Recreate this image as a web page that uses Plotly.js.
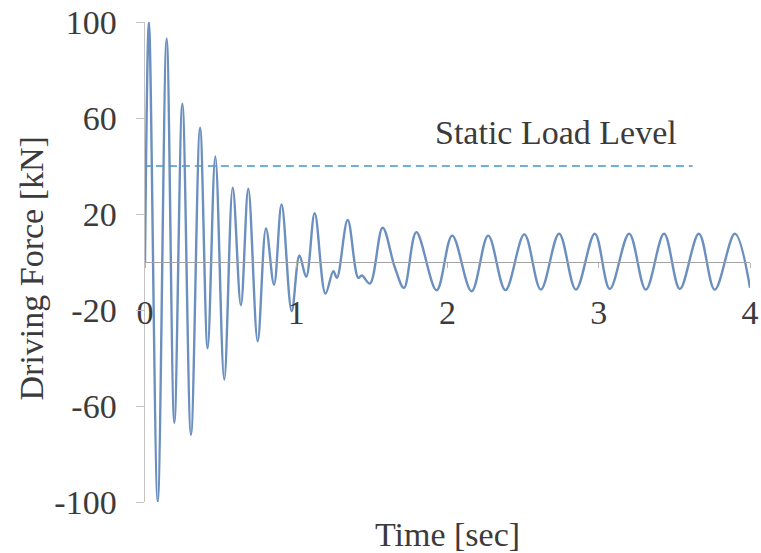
<!DOCTYPE html>
<html>
<head>
<meta charset="utf-8">
<script src="https://cdn.plot.ly/plotly-3.0.1.min.js"></script>
<style>html,body{margin:0;padding:0;background:#fff;}#chart{width:761px;height:553px;}</style>
</head>
<body>
<div id="chart"></div>
<script>
// Driving force response
const timeSec = [0, 0.026, 0.084, 0.143, 0.194, 0.247, 0.304, 0.364, 0.414, 0.465, 0.524,
  0.580, 0.634, 0.683, 0.745, 0.800, 0.853, 0.903, 0.970, 1.021, 1.066, 1.122, 1.193,
  1.245, 1.269, 1.340, 1.410, 1.434, 1.487, 1.571, 1.652, 1.712, 1.794, 1.928, 2.031,
  2.159, 2.269, 2.383, 2.508, 2.617, 2.738, 2.849, 2.974, 3.073, 3.201, 3.311, 3.432,
  3.536, 3.662, 3.767, 3.900, 4.0];
const forceKN = [0, 100, -100, 93, -67, 66, -72, 56, -36, 44, -49,
  31, -18, 30.5, -33, 14, -9.5, 24, -20.5, 2.7, -6.2, 20.3, -13.2,
  -3.8, -6.6, 17.5, -6.6, -5.6, -9, 14.3, -2.3, -10.8, 12.4, -11.8, 11,
  -12.2, 11, -11.7, 11.5, -11.5, 11.8, -11.5, 11.8, -11.2, 11.8, -11.5, 11.8,
  -11.2, 11.8, -11.5, 11.8, -10.7];

// Static load level
const staticTime = [-0.1, 3.62];
const staticForce = [40, 40];
const staticLabel = 'Static Load Level';

// Axes
const xTicks = [0, 1, 2, 3, 4];
const yTicks = [-100, -60, -20, 20, 60, 100];
const yTickLabels = ['-100', '-60', '-20', '20', '60', '100'];
const yTitle = 'Driving Force [kN]';
const xTitle = 'Time [sec]';

const FONT = '"Liberation Serif", "Times New Roman", serif';
const TXT = '#3b3b3b';
const FS = 34;

const traces = [
  {
    x: staticTime, y: staticForce, type: 'scatter', mode: 'lines',
    line: {color: '#3f97cc', width: 1.5, dash: '8px,5px'}, hoverinfo: 'skip'
  },
  {
    x: timeSec, y: forceKN, type: 'scatter', mode: 'lines',
    line: {color: '#6b8fbf', width: 2.4, shape: 'spline', smoothing: 1}
  }
];

const layout = {
  width: 761, height: 553,
  margin: {l: 145, r: 11, t: 22, b: 51},
  paper_bgcolor: '#ffffff', plot_bgcolor: '#ffffff',
  showlegend: false,
  font: {family: FONT, size: FS, color: TXT},
  xaxis: {
    range: [0, 4],
    anchor: 'free', position: 0.5,
    tickvals: xTicks, ticktext: xTicks.map(String),
    showline: true, linecolor: '#a3a3a3', linewidth: 1.3,
    ticks: 'outside', ticklen: 5, tickcolor: '#b5b5b5',
    ticklabelstandoff: 15,
    showgrid: false, zeroline: false,
    tickfont: {family: FONT, size: FS, color: TXT},
    title: {text: xTitle, standoff: 254, font: {family: FONT, size: FS, color: TXT}}
  },
  yaxis: {
    range: [-100, 100],
    tickvals: yTicks, ticktext: yTickLabels,
    showline: true, linecolor: '#c4c4c4', linewidth: 1.5,
    ticks: 'outside', ticklen: 8, tickcolor: '#c4c4c4',
    ticklabelstandoff: 12,
    showgrid: false, zeroline: false,
    tickfont: {family: FONT, size: FS, color: TXT}
  },
  annotations: [
    {
      x: 2.72, y: 54, xref: 'x', yref: 'y',
      text: staticLabel, showarrow: false,
      font: {family: FONT, size: FS, color: TXT}
    },
    {
      x: -0.188, y: 0.487, xref: 'paper', yref: 'paper',
      xanchor: 'center', yanchor: 'middle', textangle: -90,
      text: yTitle, showarrow: false,
      font: {family: FONT, size: FS, color: TXT}
    }
  ]
};

Plotly.newPlot('chart', traces, layout, {displayModeBar: false, staticPlot: true});
</script>
</body>
</html>
